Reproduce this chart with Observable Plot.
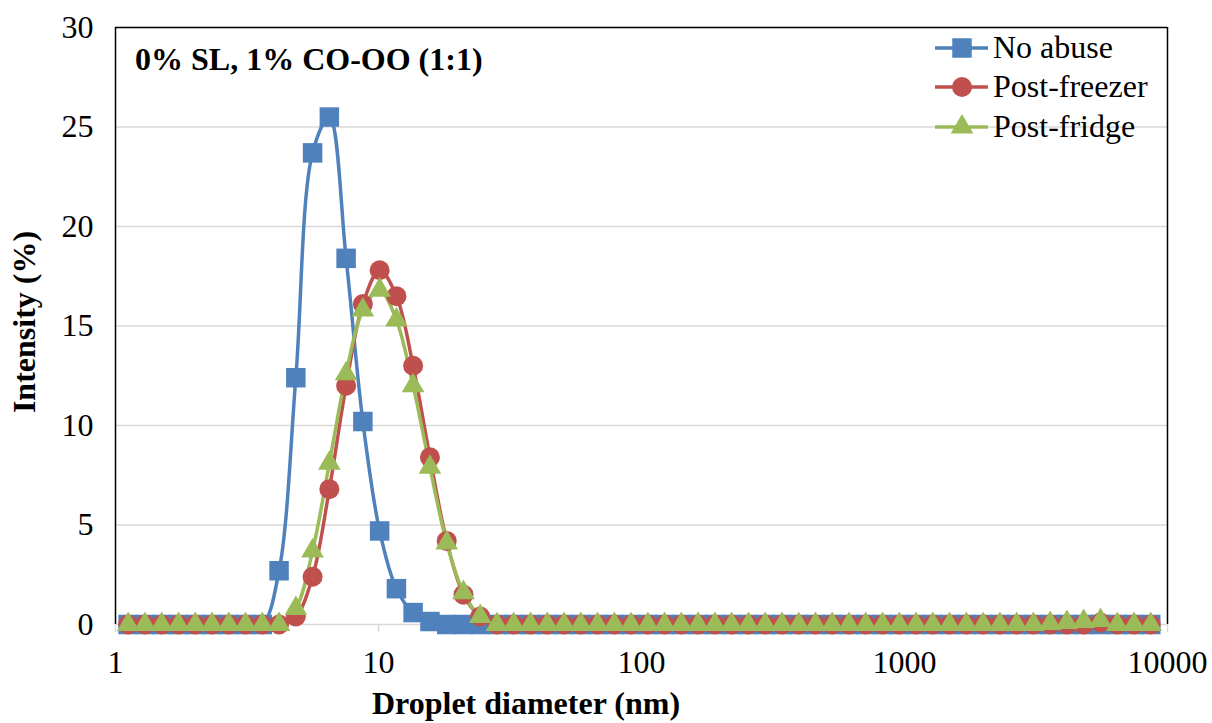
<!DOCTYPE html>
<html><head><meta charset="utf-8">
<script src="https://cdn.jsdelivr.net/npm/d3@7"></script>
<script src="https://cdn.jsdelivr.net/npm/@observablehq/plot@0.6"></script>
<style>body{margin:0;background:#fff} svg{display:block}</style>
</head><body><div id="chart"></div>
<script>
// Droplet diameter bins (nm)
const diameters = [
  1.117, 1.294, 1.499, 1.736, 2.01, 2.328, 2.696, 3.122, 3.615, 4.187,
  4.849, 5.615, 6.503, 7.531, 8.721, 10.1, 11.7, 13.54, 15.69, 18.17,
  21.04, 24.36, 28.21, 32.67, 37.84, 43.82, 50.75, 58.77, 68.06, 78.82,
  91.28, 105.7, 122.4, 141.8, 164.2, 190.1, 220.2, 255, 295.3, 342,
  396.1, 458.7, 531.2, 615.1, 712.4, 825, 955.4, 1106, 1281, 1484,
  1718, 1990, 2305, 2669, 3091, 3580, 4145, 4801, 5560, 6439,
  7456, 8635
];
const noAbuse = [
  0, 0, 0, 0, 0, 0, 0, 0, 0, 2.7,
  12.4, 23.7, 25.5, 18.4, 10.2, 4.7, 1.8, 0.6, 0.15, 0,
  0, 0, 0, 0, 0, 0, 0, 0, 0, 0,
  0, 0, 0, 0, 0, 0, 0, 0, 0, 0,
  0, 0, 0, 0, 0, 0, 0, 0, 0, 0,
  0, 0, 0, 0, 0, 0, 0, 0, 0, 0,
  0, 0
];
const postFreezer = [
  0, 0, 0, 0, 0, 0, 0, 0, 0, 0,
  0.4, 2.4, 6.8, 12.0, 16.1, 17.8, 16.5, 13.0, 8.4, 4.2,
  1.5, 0.4, 0, 0, 0, 0, 0, 0, 0, 0,
  0, 0, 0, 0, 0, 0, 0, 0, 0, 0,
  0, 0, 0, 0, 0, 0, 0, 0, 0, 0,
  0, 0, 0, 0, 0, 0, 0, 0, 0.1, 0,
  0, 0
];
const postFridge = [
  0, 0, 0, 0, 0, 0, 0, 0, 0, 0,
  0.8, 3.7, 8.1, 12.6, 15.8, 16.8, 15.3, 12.0, 7.9, 4.1,
  1.6, 0.4, 0, 0, 0, 0, 0, 0, 0, 0,
  0, 0, 0, 0, 0, 0, 0, 0, 0, 0,
  0, 0, 0, 0, 0, 0, 0, 0, 0, 0,
  0, 0, 0, 0, 0, 0.05, 0.1, 0.15, 0.2, 0,
  0, 0
];
const seriesNames = ["No abuse", "Post-freezer", "Post-fridge"];
const xTicks = [1, 10, 100, 1000, 10000];
const yTicks = [0, 5, 10, 15, 20, 25, 30];
const titleText = "0% SL, 1% CO-OO (1:1)";
const xLabel = "Droplet diameter (nm)";
const yLabel = "Intensity (%)";

const colors = ["#4F81BD", "#C0504D", "#9BBB59"];
const symbols = ["square", "circle", "triangle"];
const radii = [11, 10, 8.4];
const seriesValues = [noAbuse, postFreezer, postFridge];

const rows = seriesNames.flatMap((s, k) =>
  diameters.map((d, i) => ({d, v: seriesValues[k][i], s})));

const font = "Liberation Serif";

const chart = Plot.plot({
  width: 1212, height: 723,
  marginLeft: 115, marginRight: 45, marginTop: 27, marginBottom: 99,
  style: {fontFamily: font, fontSize: "32px", color: "#000", background: "#fff"},
  x: {type: "log", domain: [1, 10000], label: null},
  y: {domain: [0, 30], label: null},
  color: {domain: seriesNames, range: colors},
  symbol: {domain: seriesNames, range: symbols},
  marks: [
    Plot.gridY(yTicks, {stroke: "#D9D9D9", strokeOpacity: 1, strokeWidth: 1.5}),
    Plot.axisY(yTicks, {tickSize: 0, tickPadding: 22, fill: "#000", label: null, fontFamily: font, fontSize: 32}),
    Plot.axisX(xTicks, {tickSize: 8, tickPadding: 18, stroke: "#D9D9D9", strokeWidth: 1.5, fill: "#000", label: null, fontFamily: font, fontSize: 32, tickFormat: d => String(d)}),
    Plot.ruleX([1], {stroke: "#000", strokeWidth: 1.5}),
    Plot.ruleX([10000], {stroke: "#000", strokeWidth: 1.5}),
    Plot.ruleY([30], {stroke: "#000", strokeWidth: 1.5}),
    Plot.line(rows, {x: "d", y: "v", z: "s", stroke: "s", strokeWidth: 3.5, curve: "catmull-rom"}),
    ...seriesNames.map((name, k) =>
      Plot.dot(rows.filter(r => r.s === name), {x: "d", y: "v", fill: "s", symbol: "s", r: radii[k], stroke: "none"}))
  ]
});

const svg = d3.select(chart);
svg.append("text").attr("x", 135).attr("y", 70).attr("text-anchor", "start")
  .attr("font-family", font).attr("font-size", 32).attr("font-weight", "bold").attr("fill", "#000")
  .text(titleText);
svg.append("text").attr("x", 526).attr("y", 714).attr("text-anchor", "middle")
  .attr("font-family", font).attr("font-size", 32).attr("font-weight", "bold").attr("fill", "#000")
  .text(xLabel);
svg.append("text").attr("transform", "translate(35,322) rotate(-90)").attr("text-anchor", "middle")
  .attr("font-family", font).attr("font-size", 32).attr("font-weight", "bold").attr("fill", "#000")
  .text(yLabel);

// Legend
const legendRows = [48, 87, 127];
const sym = {square: d3.symbolSquare, circle: d3.symbolCircle, triangle: d3.symbolTriangle};
seriesNames.forEach((name, k) => {
  const g = svg.append("g").attr("transform", `translate(0,${legendRows[k]})`);
  g.append("line").attr("x1", 935).attr("x2", 988).attr("y1", 0).attr("y2", 0)
    .attr("stroke", colors[k]).attr("stroke-width", 3.5);
  g.append("path").attr("transform", "translate(962,0)")
    .attr("d", d3.symbol(sym[symbols[k]], Math.PI * radii[k] * radii[k])())
    .attr("fill", colors[k]);
  g.append("text").attr("x", 993).attr("y", 10).attr("text-anchor", "start")
    .attr("font-family", font).attr("font-size", 32).attr("fill", "#000").text(name);
});

document.getElementById("chart").append(chart);
</script>
</body></html>
